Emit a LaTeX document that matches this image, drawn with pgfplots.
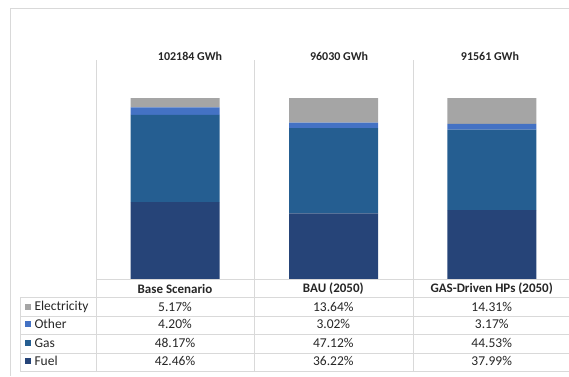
\documentclass[border=0pt]{standalone}
\usepackage{pgfplots}
\pgfplotsset{compat=1.18}
\usepackage{fontspec}
\setmainfont{Carlito}
\definecolor{elec}{HTML}{A5A5A5}
\definecolor{other}{HTML}{4472C4}
\definecolor{gas}{HTML}{255E91}
\definecolor{fuel}{HTML}{264478}
\definecolor{grid}{HTML}{D9D9D9}
\definecolor{txt}{HTML}{262626}
\begin{document}
\begin{tikzpicture}
\path[use as bounding box] (0pt,0pt) rectangle (569pt,376pt);
\draw[grid] (10pt,0pt) -- (10pt,368pt) -- (590pt,368pt);
\begin{axis}[
  at={(96pt,97pt)}, anchor=south west,
  scale only axis, width=475pt, height=219pt,
  xmin=-0.5, xmax=2.5, ymin=0, ymax=121,
  ybar stacked, bar width=89pt,
  hide axis, clip=false,
]
\addplot[fill=fuel, draw=none] coordinates {(0,42.46) (1,36.22) (2,37.99)};
\addplot[fill=gas, draw=none] coordinates {(0,48.17) (1,47.12) (2,44.53)};
\addplot[fill=other, draw=none] coordinates {(0,4.20) (1,3.02) (2,3.17)};
\addplot[fill=elec, draw=none] coordinates {(0,5.17) (1,13.64) (2,14.31)};
\node[font=\bfseries\fontsize{12}{14}\selectfont, text=txt] at (axis cs:0.094,123.2) {102184 GWh};
\node[font=\bfseries\fontsize{12}{14}\selectfont, text=txt] at (axis cs:1.035,123.2) {96030 GWh};
\node[font=\bfseries\fontsize{12}{14}\selectfont, text=txt] at (axis cs:1.988,123.2) {91561 GWh};
\end{axis}
% grid lines
\draw[grid] (96pt,97pt) -- (590pt,97pt);
\foreach \y in {79,60,42,23,5} \draw[grid] (20pt,\y pt) -- (590pt,\y pt);
\draw[grid] (20pt,79pt) -- (20pt,5pt);
\foreach \x in {96,254.3,412.7,571} \draw[grid] (\x pt,316pt) -- (\x pt,5pt);
% table text
\begin{scope}[every node/.style={font=\fontsize{13.5}{16}\selectfont, text=txt}]
\node[font=\bfseries\fontsize{13}{15}\selectfont] at (175pt,87pt) {Base Scenario};
\node[font=\bfseries\fontsize{13}{15}\selectfont] at (333.3pt,87pt) {BAU (2050)};
\node[font=\bfseries\fontsize{13}{15}\selectfont] at (491.7pt,87pt) {GAS-Driven HPs (2050)};
\fill[elec] (25pt,66pt) rectangle (31pt,72pt);
\node[anchor=west] at (31pt,69pt) {Electricity};
\fill[other] (25pt,49pt) rectangle (31pt,55pt);
\node[anchor=west] at (31pt,52pt) {Other};
\fill[gas] (25pt,30pt) rectangle (31pt,36pt);
\node[anchor=west] at (31pt,33pt) {Gas};
\fill[fuel] (25pt,12pt) rectangle (31pt,18pt);
\node[anchor=west] at (31pt,15pt) {Fuel};
\node at (175pt,69pt) {5.17\%};
\node at (333.3pt,69pt) {13.64\%};
\node at (491.7pt,69pt) {14.31\%};
\node at (175pt,52pt) {4.20\%};
\node at (333.3pt,52pt) {3.02\%};
\node at (491.7pt,52pt) {3.17\%};
\node at (175pt,33pt) {48.17\%};
\node at (333.3pt,33pt) {47.12\%};
\node at (491.7pt,33pt) {44.53\%};
\node at (175pt,15pt) {42.46\%};
\node at (333.3pt,15pt) {36.22\%};
\node at (491.7pt,15pt) {37.99\%};
\end{scope}
\end{tikzpicture}
\end{document}
